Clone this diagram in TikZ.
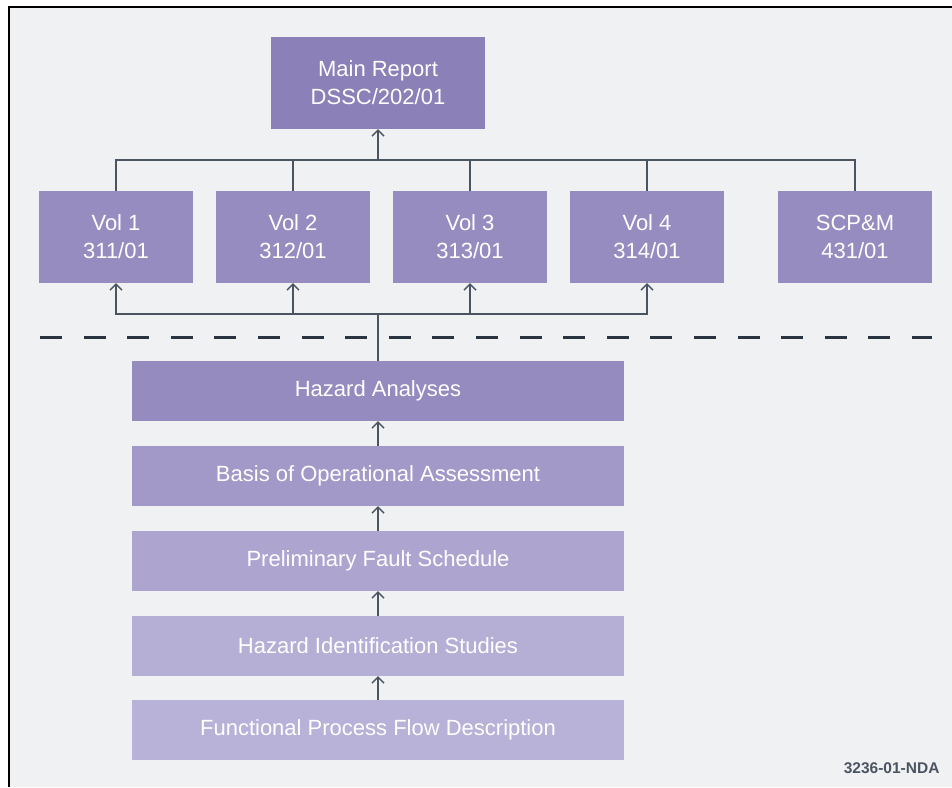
\documentclass[tikz,border=0pt]{standalone}
\usepackage{fontspec}
\setmainfont{Liberation Sans}
\usetikzlibrary{arrows.meta}

\definecolor{bggray}{HTML}{F0F1F3}
\definecolor{linec}{HTML}{4B5562}
\definecolor{dashc}{HTML}{2A3440}
\definecolor{mainc}{HTML}{8B80B7}
\definecolor{volc}{HTML}{978CC0}
\definecolor{hac}{HTML}{968BBF}
\definecolor{boac}{HTML}{A399C9}
\definecolor{pfsc}{HTML}{ADA5D0}
\definecolor{hidc}{HTML}{B5AED5}
\definecolor{fpfc}{HTML}{B8B1D8}

\tikzset{
  box/.style={rectangle, inner sep=0pt, text=white, align=center,
    font=\fontsize{22}{28}\selectfont},
  volbox/.style={box, fill=volc, minimum width=154pt, minimum height=92pt},
  stepbox/.style={box, minimum width=492pt, minimum height=60pt},
  link/.style={draw=linec, line width=1.4pt},
  up/.style={link, ->, >={Straight Barb[length=6pt,width=12pt]}}
}

\begin{document}
\begin{tikzpicture}[x=1pt,y=-1pt]
\useasboundingbox (0,0) rectangle (952,787);
\fill[white] (0,0) rectangle (952,787);
\fill[bggray] (8.5,6.5) rectangle (952,787);
\draw[black, line width=2pt] (8.5,787) -- (8.5,6.5) -- (952,6.5);

\node[box, fill=mainc, minimum width=214pt, minimum height=92pt] (main) at (378,83) {Main Report\\DSSC/202/01};

\node[volbox] (v1) at (116,237) {Vol 1\\311/01};
\node[volbox] (v2) at (293,237) {Vol 2\\312/01};
\node[volbox] (v3) at (470,237) {Vol 3\\313/01};
\node[volbox] (v4) at (647,237) {Vol 4\\314/01};
\node[volbox] (scp) at (855,237) {SCP\&M\\431/01};

\node[stepbox, fill=hac] (ha) at (378,391) {Hazard Analyses};
\node[stepbox, fill=boac] (boa) at (378,476) {Basis of Operational Assessment};
\node[stepbox, fill=pfsc] (pfs) at (378,561) {Preliminary Fault Schedule};
\node[stepbox, fill=hidc] (hid) at (378,646) {Hazard Identification Studies};
\node[stepbox, fill=fpfc] (fpf) at (378,730) {Functional Process Flow Description};

\node[anchor=base east, text=linec, font=\fontsize{15.5}{18}\selectfont\bfseries] (ref) at (943,773) {3236-01-NDA};

\coordinate (bus) at (378,160);
\coordinate (lbus) at (378,314);

% volumes up to main report
\path[link] (v1.north) |- (bus) -| (scp.north);
\path[link] (v2.north) -- (v2.north |- bus);
\path[link] (v3.north) -- (v3.north |- bus);
\path[link] (v4.north) -- (v4.north |- bus);
\path[up] (bus) -- (main.south);

% hazard analyses up to volumes
\path[link] (ha.north) -- (lbus);
\path[up] (lbus) -| (v1.south);
\path[up] (lbus) -| (v4.south);
\path[up] (v2.south |- lbus) -- (v2.south);
\path[up] (v3.south |- lbus) -- (v3.south);

\draw[dashc, line width=3pt, dash pattern=on 22pt off 21.6pt] (40,337) -- (932,337);

% chain of studies
\path[up] (fpf) -- (hid);
\path[up] (hid) -- (pfs);
\path[up] (pfs) -- (boa);
\path[up] (boa) -- (ha);
\end{tikzpicture}
\end{document}
